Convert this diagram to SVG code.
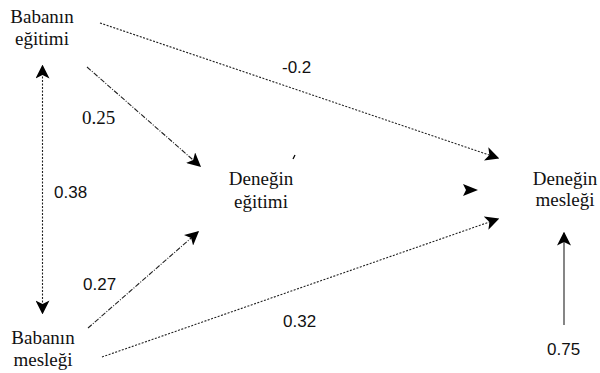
<svg xmlns="http://www.w3.org/2000/svg" width="600" height="373" viewBox="0 0 600 373">
<defs>
<marker id="ah" viewBox="0 0 10 10" refX="9" refY="5" markerWidth="14" markerHeight="14" markerUnits="userSpaceOnUse" orient="auto-start-reverse">
<path d="M0,0 L10,5 L0,10 L2.5,5 z" fill="#000"/>
</marker>
<style>
.lbl{font-family:"Liberation Serif","Times New Roman","DejaVu Serif",serif;font-size:19px;fill:#111;text-anchor:middle}
.num{font-family:"Liberation Sans",Arial,sans-serif;font-size:17px;fill:#111}
.numS{font-family:"Liberation Serif","Times New Roman","DejaVu Serif",serif;font-size:19px;fill:#111}
.c{stroke:#222;stroke-width:1.1;fill:none}
.dot{stroke-dasharray:2 1.5}
.dd{stroke-dasharray:5 1.5 1 1.5}
</style>
</defs>
<rect width="600" height="373" fill="#fff"/>
<g id="connectors">
<line class="c dot" x1="100" y1="23" x2="498" y2="158" marker-end="url(#ah)"/>
<line class="c dd" x1="87" y1="67" x2="200" y2="166" marker-end="url(#ah)"/>
<line class="c dot" x1="42.5" y1="66" x2="42.5" y2="313" marker-start="url(#ah)" marker-end="url(#ah)"/>
<line class="c dd" x1="88" y1="328" x2="198" y2="232" marker-end="url(#ah)"/>
<line class="c dot" x1="102" y1="357" x2="498" y2="219" marker-end="url(#ah)"/>
<line class="c" x1="564" y1="325" x2="564" y2="233" marker-end="url(#ah)"/>
<path d="M463,184 L478,190 L463,196 L466,190 z" fill="#000"/>
<path d="M293,159 L295,155" stroke="#000" stroke-width="1.3"/>
</g>
<g id="babanin-egitimi">
<text class="lbl" x="42" y="23">Babanın</text>
<text class="lbl" x="42" y="45">eğitimi</text>
</g>
<g id="denegin-egitimi">
<text class="lbl" x="261" y="185">Deneğin</text>
<text class="lbl" x="261" y="208">eğitimi</text>
</g>
<g id="denegin-meslegi">
<text class="lbl" x="565" y="185">Deneğin</text>
<text class="lbl" x="565" y="206">mesleği</text>
</g>
<g id="babanin-meslegi">
<text class="lbl" x="43" y="344">Babanın</text>
<text class="lbl" x="43" y="366">mesleği</text>
</g>
<g id="labels">
<text class="num" x="282" y="73">-0.2</text>
<text class="numS" x="82" y="124">0.25</text>
<text class="num" x="54" y="198">0.38</text>
<text class="num" x="83" y="290">0.27</text>
<text class="num" x="283" y="327">0.32</text>
<text class="num" x="547" y="355">0.75</text>
</g>
</svg>
